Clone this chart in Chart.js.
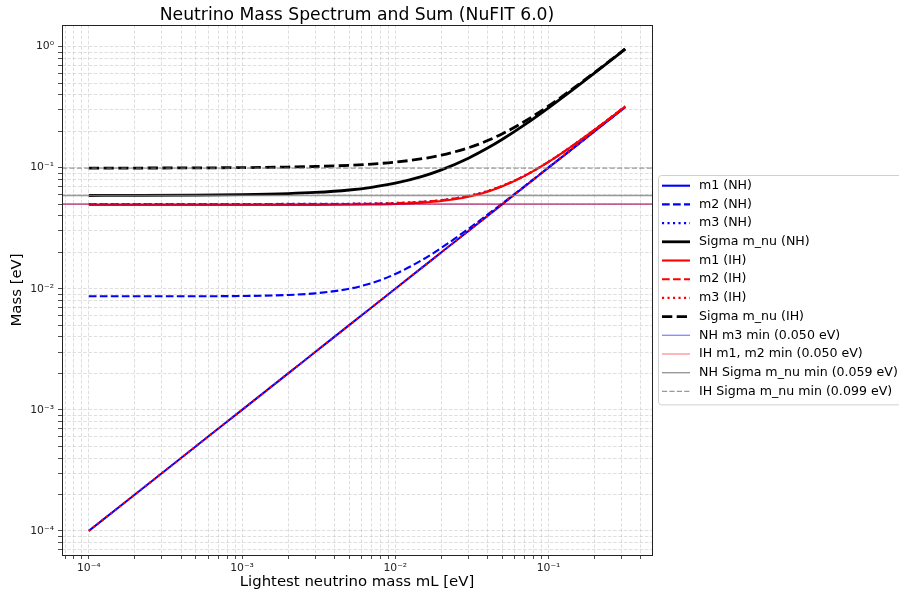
<!DOCTYPE html>
<html>
<head>
<meta charset="utf-8">
<title>Neutrino Mass Spectrum and Sum</title>
<script src="https://cdn.jsdelivr.net/npm/chart.js@4.4.1/dist/chart.umd.min.js"></script>
<style>
  html, body { margin: 0; padding: 0; background: #fff; }
  #wrap { width: 899px; height: 593px; }
</style>
</head>
<body>
<div id="wrap"><canvas id="massChart" width="899" height="593"></canvas></div>
<script>
// lightest neutrino mass mL [eV]
const mLight = [0.0001, 0.0002, 0.0005, 0.001, 0.002, 0.003, 0.005, 0.007, 0.01, 0.015, 0.02, 0.03, 0.04, 0.05, 0.07, 0.1, 0.15, 0.2, 0.3162];

// normal hierarchy (m1 = mL)
const nhM1 = [0.0001, 0.0002, 0.0005, 0.001, 0.002, 0.003, 0.005, 0.007, 0.01, 0.015, 0.02, 0.03, 0.04, 0.05, 0.07, 0.1, 0.15, 0.2, 0.3162];
const nhM2 = [0.00866, 0.00866, 0.00867, 0.00871, 0.00888, 0.00916, 0.00999, 0.01113, 0.01323, 0.01732, 0.02179, 0.03122, 0.04093, 0.05074, 0.07053, 0.10037, 0.15025, 0.20019, 0.31635];
const nhM3 = [0.05013, 0.05013, 0.05013, 0.05014, 0.05017, 0.05022, 0.05038, 0.05062, 0.05112, 0.05233, 0.05397, 0.05842, 0.06413, 0.0708, 0.0861, 0.11186, 0.15815, 0.20619, 0.32018];
const nhSum = [0.05889, 0.05899, 0.0593, 0.05985, 0.06105, 0.06238, 0.06538, 0.06875, 0.07435, 0.08465, 0.09576, 0.11964, 0.14506, 0.17154, 0.22663, 0.31223, 0.4584, 0.60638, 0.95273];

// inverted hierarchy (m3 = mL)
const ihM1 = [0.04914, 0.04914, 0.04915, 0.04915, 0.04918, 0.04923, 0.0494, 0.04964, 0.05015, 0.05138, 0.05306, 0.05758, 0.06337, 0.07011, 0.08553, 0.11142, 0.15785, 0.20595, 0.32002];
const ihM2 = [0.0499, 0.0499, 0.0499, 0.04991, 0.04994, 0.04999, 0.05015, 0.05039, 0.05089, 0.05211, 0.05376, 0.05822, 0.06395, 0.07064, 0.08597, 0.11176, 0.15808, 0.20613, 0.32014];
const ihM3 = [0.0001, 0.0002, 0.0005, 0.001, 0.002, 0.003, 0.005, 0.007, 0.01, 0.015, 0.02, 0.03, 0.04, 0.05, 0.07, 0.1, 0.15, 0.2, 0.3162];
const ihSum = [0.09914, 0.09924, 0.09955, 0.10006, 0.10112, 0.10222, 0.10455, 0.10703, 0.11104, 0.11849, 0.12682, 0.1458, 0.16732, 0.19075, 0.2415, 0.32318, 0.46593, 0.61208, 0.95636];

// minimum values shown as horizontal lines [eV]
const nhM3Min = 0.0501;
const ihM12Min = 0.0499;
const nhSumMin = 0.0589;
const ihSumMin = 0.0991;

// decade ticks and their labels
const xDecades = [1e-4, 1e-3, 1e-2, 1e-1];
const xDecadeLabels = ['10\u207B\u2074', '10\u207B\u00B3', '10\u207B\u00B2', '10\u207B\u00B9'];
const yDecades = [1e-4, 1e-3, 1e-2, 1e-1, 1];
const yDecadeLabels = ['10\u207B\u2074', '10\u207B\u00B3', '10\u207B\u00B2', '10\u207B\u00B9', '10\u2070'];

// axis limits (log range of the data plus 5% margin)
const X_MIN = Math.pow(10, -4.175);
const X_MAX = Math.pow(10, -0.325);
const Y_MIN = Math.pow(10, -4.199);
const Y_MAX = Math.pow(10, 0.178);

const FONT = "'DejaVu Sans', sans-serif";

function curve(label, ys, color, width, dash) {
  return {
    label: label,
    data: mLight.map((x, i) => ({ x: x, y: ys[i] })),
    borderColor: color,
    borderWidth: width,
    borderDash: dash,
    pointRadius: 0,
    fill: false,
    cubicInterpolationMode: 'monotone'
  };
}

function hline(label, v, color, dash) {
  return {
    label: label,
    data: [{ x: X_MIN, y: v }, { x: X_MAX, y: v }],
    borderColor: color,
    borderWidth: 1.4,
    borderDash: dash,
    pointRadius: 0,
    fill: false
  };
}

const DASH = [7.7, 3.3];
const DOT = [2.1, 3.4];
const DASH_SUM = [10.3, 4.4];

const datasets = [
  curve('m1 (NH)', nhM1, '#0000ff', 2.1, []),
  curve('m2 (NH)', nhM2, '#0000ff', 2.1, DASH),
  curve('m3 (NH)', nhM3, '#0000ff', 2.1, DOT),
  curve('Sigma m_nu (NH)', nhSum, '#000000', 2.8, []),
  curve('m1 (IH)', ihM1, '#ff0000', 2.1, []),
  curve('m2 (IH)', ihM2, '#ff0000', 2.1, DASH),
  curve('m3 (IH)', ihM3, '#ff0000', 2.1, DOT),
  curve('Sigma m_nu (IH)', ihSum, '#000000', 2.8, DASH_SUM),
  hline('NH m3 min (' + nhM3Min.toFixed(3) + ' eV)', nhM3Min, 'rgba(0,0,255,0.45)', []),
  hline('IH m1, m2 min (' + ihM12Min.toFixed(3) + ' eV)', ihM12Min, 'rgba(255,0,0,0.4)', []),
  hline('NH Sigma m_nu min (' + nhSumMin.toFixed(3) + ' eV)', nhSumMin, 'rgba(128,128,128,0.8)', []),
  hline('IH Sigma m_nu min (' + ihSumMin.toFixed(3) + ' eV)', ihSumMin, 'rgba(128,128,128,0.8)', [5.2, 2.2])
];
// later datasets are painted on top
datasets.forEach((d, i) => { d.order = datasets.length - i; });

// 1..9 x 10^n ticks, labelled only at the decades
function logTicks(scale, decades, lo, hi) {
  const ticks = [];
  const first = decades[0] / 10;
  const last = decades[decades.length - 1];
  for (let base = first; base <= last * 1.0001; base *= 10) {
    for (let k = 1; k < 10; k++) {
      const v = k * base;
      if (v >= lo && v <= hi) ticks.push({ value: v });
    }
  }
  scale.ticks = ticks;
}

function decadeLabel(decades, labels) {
  return function (value) {
    for (let i = 0; i < decades.length; i++) {
      if (Math.abs(Math.log10(value) - Math.log10(decades[i])) < 1e-6) return labels[i];
    }
    return '';
  };
}

// title over the plot area, axes frame and the boxed legend
const framePlugin = {
  id: 'framePlugin',
  afterDraw(chart) {
    const ctx = chart.ctx;
    const a = chart.chartArea;
    ctx.save();

    ctx.strokeStyle = '#222';
    ctx.lineWidth = 1;
    ctx.strokeRect(Math.round(a.left) + 0.5, Math.round(a.top) + 0.5,
      Math.round(a.right - a.left), Math.round(a.bottom - a.top));

    ctx.fillStyle = '#000';
    ctx.font = '17.2px ' + FONT;
    ctx.textAlign = 'center';
    ctx.textBaseline = 'alphabetic';
    ctx.fillText('Neutrino Mass Spectrum and Sum (NuFIT 6.0)', (a.left + a.right) / 2, 19.5);

    // legend
    const lx = 658, ly = 175, rowH = 18.7;
    const sets = chart.data.datasets;
    const lh = rowH * sets.length + 5;
    ctx.fillStyle = 'rgba(255,255,255,0.85)';
    ctx.strokeStyle = '#d0d0d0';
    ctx.lineWidth = 1;
    ctx.beginPath();
    ctx.roundRect(lx + 0.5, ly + 0.5, 260, lh, 3);
    ctx.fill();
    ctx.stroke();

    ctx.font = '12.6px ' + FONT;
    ctx.textAlign = 'left';
    ctx.textBaseline = 'middle';
    sets.forEach((d, i) => {
      const y = ly + 10.7 + i * rowH;
      ctx.save();
      ctx.strokeStyle = d.borderColor;
      ctx.lineWidth = d.borderWidth;
      ctx.setLineDash(d.borderDash || []);
      ctx.beginPath();
      ctx.moveTo(662, y);
      ctx.lineTo(690, y);
      ctx.stroke();
      ctx.restore();
      ctx.fillStyle = '#000';
      ctx.fillText(d.label, 699, y);
    });

    ctx.restore();
  }
};

const gridOpts = {
  color: 'rgba(176,176,176,0.5)',
  lineWidth: 0.8,
  tickLength: 4,
  tickColor: '#222',
  tickWidth: 0.8,
  tickBorderDash: []
};

new Chart(document.getElementById('massChart'), {
  type: 'line',
  data: { datasets: datasets },
  plugins: [framePlugin],
  options: {
    responsive: false,
    animation: false,
    devicePixelRatio: 1,
    layout: { padding: { top: 25, right: 247, bottom: 0, left: 0 } },
    plugins: {
      legend: { display: false },
      title: { display: false },
      tooltip: { enabled: false }
    },
    scales: {
      x: {
        type: 'logarithmic',
        min: X_MIN,
        max: X_MAX,
        afterBuildTicks: s => logTicks(s, xDecades, X_MIN, X_MAX),
        afterFit: s => { s.height = 38; },
        border: { display: false, dash: [3.5, 1.8] },
        grid: gridOpts,
        ticks: {
          autoSkip: false,
          maxRotation: 0,
          padding: 3,
          color: '#222',
          font: { family: FONT, size: 10.8 },
          callback: decadeLabel(xDecades, xDecadeLabels)
        },
        title: {
          display: true,
          text: 'Lightest neutrino mass mL [eV]',
          color: '#000',
          font: { family: FONT, size: 14.9 },
          padding: { top: 0, bottom: 2 }
        }
      },
      y: {
        type: 'logarithmic',
        min: Y_MIN,
        max: Y_MAX,
        afterBuildTicks: s => logTicks(s, yDecades, Y_MIN, Y_MAX),
        afterFit: s => { s.width = 62; },
        border: { display: false, dash: [3.5, 1.8] },
        grid: gridOpts,
        ticks: {
          autoSkip: false,
          padding: 4,
          color: '#222',
          font: { family: FONT, size: 10.8 },
          callback: decadeLabel(yDecades, yDecadeLabels)
        },
        title: {
          display: true,
          text: 'Mass [eV]',
          color: '#000',
          font: { family: FONT, size: 14.9 },
          padding: { top: 8, bottom: 0 }
        }
      }
    }
  }
});
</script>
</body>
</html>
